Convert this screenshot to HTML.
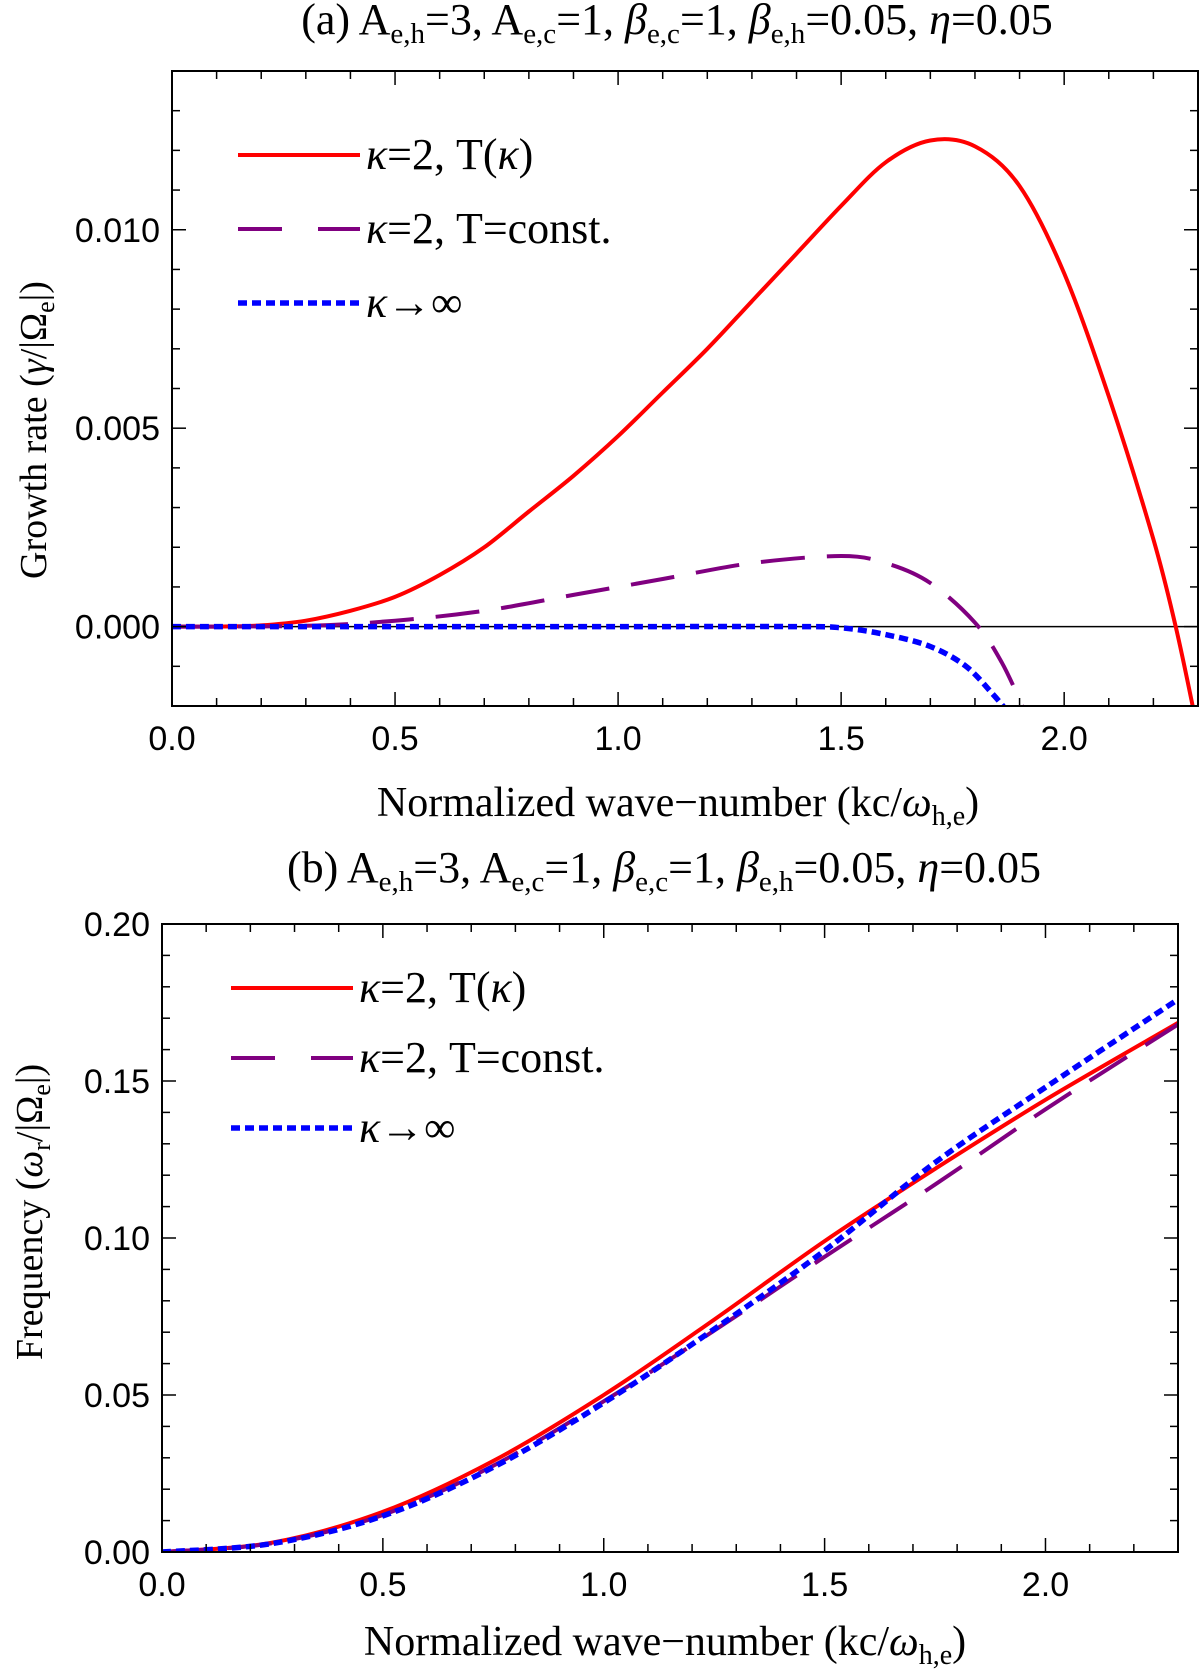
<!DOCTYPE html>
<html><head><meta charset="utf-8"><style>
body{margin:0;background:#fff}
svg{display:block}
.t{font-family:"Liberation Serif",serif;fill:#000}
.n{font-family:"Liberation Sans",sans-serif;fill:#000}
</style></head><body>
<svg id="s" width="1200" height="1672" viewBox="0 0 1200 1672" xmlns="http://www.w3.org/2000/svg">
<text class="t" x="677" y="34" font-size="44" text-anchor="middle">(a) A<tspan font-size="29" dy="9">e,h</tspan><tspan dy="-9">=3, A</tspan><tspan font-size="29" dy="9">e,c</tspan><tspan dy="-9">=1, </tspan><tspan font-style="italic">β</tspan><tspan font-size="29" dy="9">e,c</tspan><tspan dy="-9">=1, </tspan><tspan font-style="italic">β</tspan><tspan font-size="29" dy="9">e,h</tspan><tspan dy="-9">=0.05, </tspan><tspan font-style="italic">η</tspan>=0.05</text>
<text class="t" x="678" y="816" font-size="42" text-anchor="middle">Normalized wave−number (kc/<tspan font-style="italic">ω</tspan><tspan font-size="28" dy="9">h,e</tspan><tspan dy="-9">)</tspan></text>
<text class="t" transform="translate(46,430) rotate(-90)" font-size="38" text-anchor="middle">Growth rate (<tspan font-style="italic">γ</tspan>/|Ω<tspan font-size="26" dy="8">e</tspan><tspan dy="-8">|)</tspan></text>
<text class="t" x="664" y="882" font-size="44" text-anchor="middle">(b) A<tspan font-size="29" dy="9">e,h</tspan><tspan dy="-9">=3, A</tspan><tspan font-size="29" dy="9">e,c</tspan><tspan dy="-9">=1, </tspan><tspan font-style="italic">β</tspan><tspan font-size="29" dy="9">e,c</tspan><tspan dy="-9">=1, </tspan><tspan font-style="italic">β</tspan><tspan font-size="29" dy="9">e,h</tspan><tspan dy="-9">=0.05, </tspan><tspan font-style="italic">η</tspan>=0.05</text>
<text class="t" x="665" y="1655" font-size="42" text-anchor="middle">Normalized wave−number (kc/<tspan font-style="italic">ω</tspan><tspan font-size="28" dy="9">h,e</tspan><tspan dy="-9">)</tspan></text>
<text class="t" transform="translate(42,1212) rotate(-90)" font-size="38" text-anchor="middle">Frequency (<tspan font-style="italic">ω</tspan><tspan font-size="26" dy="8">r</tspan><tspan dy="-8">/|Ω</tspan><tspan font-size="26" dy="8">e</tspan><tspan dy="-8">|)</tspan></text>
</svg>
<script>
// Panel (a) growth rate data
const growthRedX=[0,0.1,0.2,0.3,0.4,0.5,0.6,0.7,0.8,0.9,1.0,1.1,1.2,1.3,1.4,1.5,1.6,1.7,1.8,1.9,2.0,2.1,2.2,2.25,2.29];
const growthRedY=[0,0,0.00003,0.00015,0.0004,0.00075,0.0013,0.002,0.0029,0.0038,0.0048,0.0059,0.007,0.0082,0.0094,0.0106,0.0117,0.01225,0.0121,0.0111,0.0089,0.0058,0.0022,0,-0.0021];
const growthPurpleX=[0,0.3,0.5,0.7,0.9,1.1,1.3,1.5,1.6,1.7,1.8,1.86,1.91];
const growthPurpleY=[0,0.00002,0.00015,0.0004,0.0008,0.0012,0.0016,0.00178,0.0016,0.0011,0.0001,-0.0009,-0.0021];
const growthBlueX=[0,0.5,1.0,1.4,1.5,1.6,1.7,1.78,1.84,1.87];
const growthBlueY=[0,0,0,0,-0.00003,-0.0002,-0.0005,-0.001,-0.0017,-0.0021];
const yTicksA=["0.000","0.005","0.010"];
const yTickValsA=[0,0.005,0.01];
// Panel (b) frequency data
const freqX=[0,0.25,0.5,0.75,1.0,1.25,1.5,1.75,2.0,2.3];
const freqRed=[0,0.003,0.0128,0.029,0.050,0.074,0.099,0.122,0.144,0.1685];
const freqPurple=[0,0.0028,0.0118,0.0275,0.048,0.0705,0.094,0.117,0.141,0.168];
const freqBlue=[0,0.0027,0.0115,0.027,0.0475,0.071,0.096,0.124,0.148,0.176];
const yTicksB=["0.00","0.05","0.10","0.15","0.20"];
const yTickValsB=[0,0.05,0.1,0.15,0.2];
const xTicks=["0.0","0.5","1.0","1.5","2.0"];
const xTickVals=[0,0.5,1,1.5,2];
const legendRest=["=2, T(","=2, T=const.","→∞"];

const NS="http://www.w3.org/2000/svg";
const svg=document.getElementById('s');
function mk(tag,attrs,parent){const e=document.createElementNS(NS,tag);for(const k in attrs)e.setAttribute(k,attrs[k]);(parent||svg).appendChild(e);return e;}
function smooth(pts){let d="M"+pts[0][0].toFixed(1)+","+pts[0][1].toFixed(1);
 for(let i=0;i<pts.length-1;i++){const p0=pts[Math.max(0,i-1)],p1=pts[i],p2=pts[i+1],p3=pts[Math.min(pts.length-1,i+2)];
 const c1=[p1[0]+(p2[0]-p0[0])/6,p1[1]+(p2[1]-p0[1])/6],c2=[p2[0]-(p3[0]-p1[0])/6,p2[1]-(p3[1]-p1[1])/6];
 d+=" C"+c1[0].toFixed(1)+","+c1[1].toFixed(1)+" "+c2[0].toFixed(1)+","+c2[1].toFixed(1)+" "+p2[0].toFixed(1)+","+p2[1].toFixed(1);}return d;}
const styles=[{stroke:"#ff0000",w:4,dash:""},{stroke:"#800080",w:4,dash:"44 22"},{stroke:"#0000ff",w:5.5,dash:"9 5"}];

function panel(P){
 const sx=v=>P.L+(v-P.x0)/(P.x1-P.x0)*(P.R-P.L);
 const sy=v=>P.B-(v-P.y0)/(P.y1-P.y0)*(P.B-P.T);
 const g=mk('g',{});
 
 
 const cp=mk('clipPath',{id:P.name+'-clip'},g);
 mk('rect',{x:P.L,y:P.T,width:P.R-P.L,height:P.B-P.T},cp);
 if(P.zero){const z=mk('line',{x1:P.L,x2:P.R,y1:sy(0),y2:sy(0),stroke:"#000","stroke-width":1.5},g);
  
  }
 P.series.forEach((s,i)=>{
  const pts=s.x.map((xv,j)=>[sx(xv),sy(s.y[j])]);
  const p=mk('path',{d:smooth(pts),fill:"none",stroke:styles[i].stroke,"stroke-width":styles[i].w,"stroke-dasharray":styles[i].dash,"clip-path":"url(#"+P.name+"-clip)"},g);
  
  
 });
 const fr=mk('rect',{x:P.L,y:P.T,width:P.R-P.L,height:P.B-P.T,fill:"none",stroke:"#000","stroke-width":2},g);
 
 
 for(let k=0;k<=Math.round((P.x1-P.x0)/0.1);k++){const v=P.x0+k*0.1;const X=sx(v);const major=k%5===0;const len=major?14:8;
  mk('line',{x1:X,x2:X,y1:P.B,y2:P.B-len,stroke:"#000","stroke-width":1.5},g);
  mk('line',{x1:X,x2:X,y1:P.T,y2:P.T+len,stroke:"#000","stroke-width":1.5},g);}
 xTickVals.forEach((v,i)=>{const t=mk('text',{x:sx(v),y:P.B+44,"font-size":34,"text-anchor":"middle",class:"n"},g);t.textContent=xTicks[i];
  
  });
 const nmin=Math.round((P.y1-P.y0)/P.minor);
 for(let k=0;k<=nmin;k++){const v=P.y0+k*P.minor;const Y=sy(v);const major=Math.abs(Math.round(v/P.major)*P.major-v)<1e-9;const len=major?14:8;
  mk('line',{x1:P.L,x2:P.L+len,y1:Y,y2:Y,stroke:"#000","stroke-width":1.5},g);
  mk('line',{x1:P.R,x2:P.R-len,y1:Y,y2:Y,stroke:"#000","stroke-width":1.5},g);}
 P.yv.forEach((v,i)=>{const t=mk('text',{x:P.L-12,y:sy(v)+12,"font-size":34,"text-anchor":"end",class:"n"},g);t.textContent=P.yl[i];
  
  });
 P.leg.forEach((ly,i)=>{const lg=mk('g',{},g);
  
  
  mk('line',{x1:P.lx,x2:P.lx+122,y1:ly,y2:ly,stroke:styles[i].stroke,"stroke-width":styles[i].w,"stroke-dasharray":i==1?"44 36":styles[i].dash},lg);
  const t=mk('text',{x:P.lx+128,y:ly+14,"font-size":44,class:"t"},lg);
  const k1=mk('tspan',{"font-style":"italic"},t);k1.textContent="κ";
  const r=mk('tspan',{},t);r.textContent=legendRest[i];
  if(i===0){const k2=mk('tspan',{"font-style":"italic"},t);k2.textContent="κ";const c=mk('tspan',{},t);c.textContent=")";}
 });
}
panel({name:"growth-rate-panel",L:172,R:1198,T:71,B:706,x0:0,x1:2.3,y0:-0.002,y1:0.014,minor:0.001,major:0.005,yl:yTicksA,yv:yTickValsA,zero:true,
 series:[{x:growthRedX,y:growthRedY},{x:growthPurpleX,y:growthPurpleY},{x:growthBlueX,y:growthBlueY}],leg:[155,229,303],lx:238});
panel({name:"frequency-panel",L:162,R:1178,T:924,B:1552,x0:0,x1:2.3,y0:0,y1:0.2,minor:0.01,major:0.05,yl:yTicksB,yv:yTickValsB,zero:false,
 series:[{x:freqX,y:freqRed},{x:freqX,y:freqPurple},{x:freqX,y:freqBlue}],leg:[988,1058,1128],lx:231});
</script>
</body></html>
